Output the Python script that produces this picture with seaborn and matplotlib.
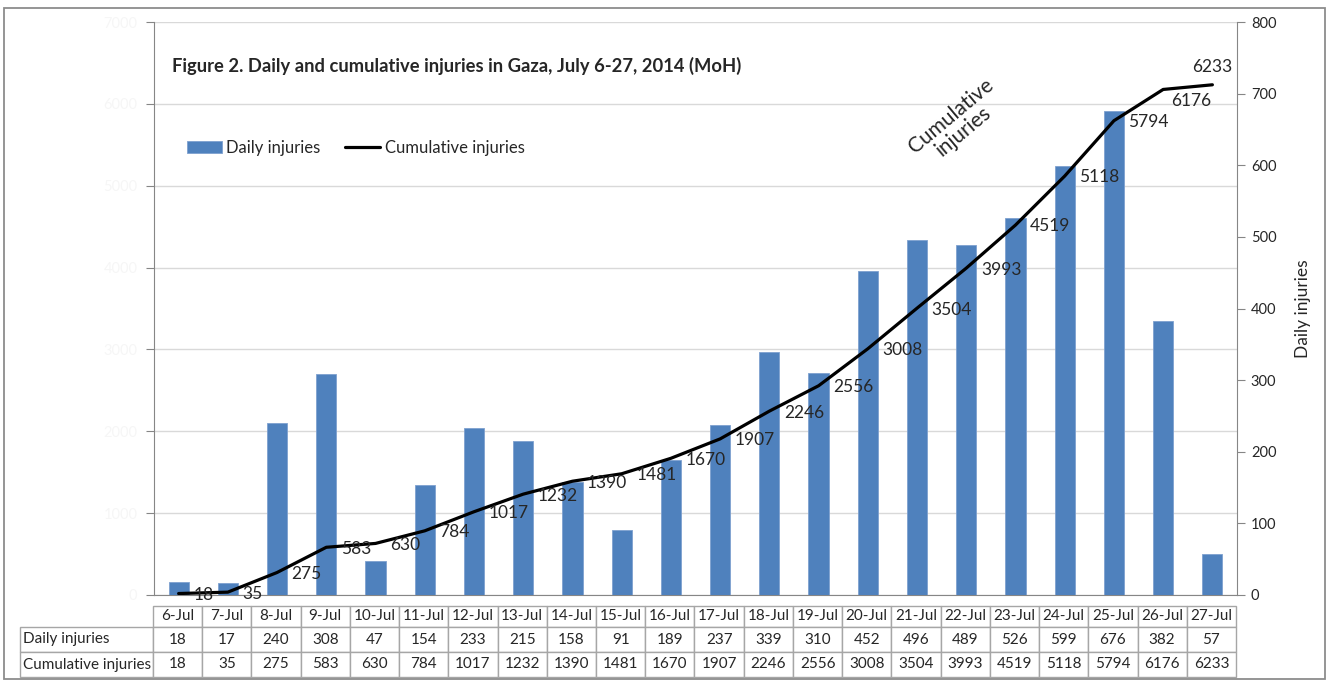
import numpy as np
import pandas as pd
import matplotlib
matplotlib.use("Agg")
import matplotlib.pyplot as plt
from matplotlib.table import Table
from matplotlib.patches import Rectangle
import seaborn as sns

# Daily and cumulative injuries in Gaza, July 6-27 2014 (MoH)
days = ['6-Jul', '7-Jul', '8-Jul', '9-Jul', '10-Jul', '11-Jul', '12-Jul', '13-Jul',
        '14-Jul', '15-Jul', '16-Jul', '17-Jul', '18-Jul', '19-Jul', '20-Jul', '21-Jul',
        '22-Jul', '23-Jul', '24-Jul', '25-Jul', '26-Jul', '27-Jul']
daily = [18, 17, 240, 308, 47, 154, 233, 215, 158, 91, 189, 237, 339, 310, 452, 496,
         489, 526, 599, 676, 382, 57]
cumulative = [18, 35, 275, 583, 630, 784, 1017, 1232, 1390, 1481, 1670, 1907, 2246,
              2556, 3008, 3504, 3993, 4519, 5118, 5794, 6176, 6233]
left_ticks = [0, 1000, 2000, 3000, 4000, 5000, 6000, 7000]
right_ticks = [0, 100, 200, 300, 400, 500, 600, 700, 800]

df = pd.DataFrame({'day': days, 'daily': daily, 'cumulative': cumulative})
df['pos'] = np.arange(len(days))

sns.set_style("white")
plt.rcParams['font.family'] = ['Lato', 'DejaVu Sans']

W, H = 1330, 682
fig = plt.figure(figsize=(W / 100, H / 100), dpi=100)

# plot area in pixels: x 154..1237, y 22..595
rect = [154 / W, (H - 595) / H, (1237 - 154) / W, (595 - 22) / H]
grey = '#868686'

# base axes: left scale (cumulative) + gridlines, labels almost white like the original
ax = fig.add_axes(rect)
ax.set_ylim(0, 7000)
ax.set_yticks(left_ticks)
ax.set_yticklabels([str(t) for t in left_ticks], color='#f6f6f6', fontsize=10.5)
ax.grid(axis='y', color='#d9d9d9', linewidth=1)
ax.tick_params(axis='y', left=True, length=6, color=grey, pad=6)
ax.tick_params(axis='x', bottom=False, labelbottom=False)
for s in ['top', 'right']:
    ax.spines[s].set_visible(False)
ax.spines['left'].set_color(grey)
ax.spines['bottom'].set_color(grey)

# bars on the right scale
ax2 = ax.twinx()
sns.barplot(data=df, x='day', y='daily', color='#4f81bd', width=0.41,
            edgecolor='#7ea0cf', linewidth=0.6, saturation=1, ax=ax2)
ax2.set_ylim(0, 800)
ax2.set_yticks(right_ticks)
ax2.tick_params(axis='y', right=True, length=6, color=grey, labelsize=10.5, pad=4)
ax2.tick_params(axis='x', bottom=False, labelbottom=False)
ax2.set_xlabel('')
ax2.set_ylabel('Daily injuries', fontsize=12.5, labelpad=13)
for s in ['top', 'left', 'bottom']:
    ax2.spines[s].set_visible(False)
ax2.spines['right'].set_color(grey)

# cumulative line on the left scale, drawn on top
ax3 = ax.twinx()
sns.lineplot(data=df, x='pos', y='cumulative', color='black', linewidth=2.3, ax=ax3)
ax3.set_ylim(0, 7000)
ax3.set_xlim(-0.5, len(days) - 0.5)
ax3.axis('off')

for i, v in enumerate(cumulative):
    if i == len(days) - 1:
        off, ha = (0, 13), 'center'
    elif i == len(days) - 2:
        off, ha = (6, -8), 'left'
    else:
        off, ha = (10.5, -1), 'left'
    ax3.annotate(str(v), (i, v), xytext=off, textcoords='offset points',
                 ha=ha, va='center', fontsize=12.5, color='#262626')

fig.text(957 / W, (H - 124) / H, 'Cumulative\ninjuries', rotation=40,
         ha='center', va='center', fontsize=15, linespacing=1.0,
         rotation_mode='anchor')

fig.text(172 / W, (H - 66) / H, 'Figure 2. Daily and cumulative injuries in Gaza, July 6-27, 2014 (MoH)',
         fontsize=13.2, fontweight='bold', ha='left', va='center')

fig.legend(handles=[ax2.patches[0], ax3.lines[0]],
           labels=['Daily injuries', 'Cumulative injuries'],
           loc='center left', bbox_to_anchor=(187 / W, (H - 148) / H),
           ncol=2, frameon=False, fontsize=12, handlelength=2.1,
           handletextpad=0.25, columnspacing=1.5, borderaxespad=0, borderpad=0)

# data table under the chart
tax = fig.add_axes([20 / W, (H - 677) / H, (1236 - 20) / W, (677 - 606) / H])
tax.axis('off')
tb = Table(tax, bbox=[0, 0, 1, 1])
label_w, col_w = 133, (1236 - 153) / len(days)
row_h = [21, 25, 25]
row_labels = ['', 'Daily injuries', 'Cumulative injuries']
row_vals = [days, [str(v) for v in daily], [str(v) for v in cumulative]]
edge = '#a6a6a6'
for r in range(3):
    c0 = tb.add_cell(r, 0, width=label_w, height=row_h[r], text=row_labels[r],
                     loc='left', edgecolor=edge, facecolor='white')
    c0.PAD = 0.02
    if r == 0:
        c0.visible_edges = ''
    for j, t in enumerate(row_vals[r]):
        tb.add_cell(r, j + 1, width=col_w, height=row_h[r], text=t, loc='center',
                    edgecolor=edge, facecolor='white')
tb.auto_set_font_size(False)
tb.set_fontsize(11)
for cell in tb.get_celld().values():
    cell.get_text().set_color('#262626')
tax.add_table(tb)

# outer chart frame
fig.patches.append(Rectangle((4 / W, (H - 679) / H), 1321 / W, 671 / H,
                             transform=fig.transFigure, fill=False,
                             edgecolor='#8c8c8c', linewidth=1.3))

plt.savefig('out.png', dpi=100)
plt.close()
